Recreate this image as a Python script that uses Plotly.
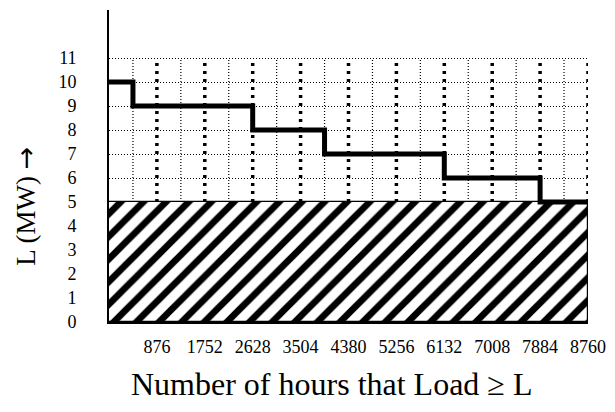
import plotly.graph_objects as go

# load duration curve
STEP_HOURS = [0, 438, 2628, 3942, 6132, 7884, 8760]
STEP_LOAD = [10, 9, 8, 7, 6, 5, 5]
BASE_LOAD = 5
GRID_TOP = 11
TOTAL_HOURS = 8760
X_TICKS = [876, 1752, 2628, 3504, 4380, 5256, 6132, 7008, 7884, 8760]
X_MINOR = [438, 1314, 2190, 3066, 3942, 4818, 5694, 6570, 7446, 8322]
Y_TICKS = list(range(0, 12))

FONT = "Liberation Serif, Times New Roman, serif"

fig = go.Figure()

# hatched base-load block
fig.add_trace(
    go.Bar(
        x=[TOTAL_HOURS / 2],
        y=[BASE_LOAD],
        width=[TOTAL_HOURS],
        marker={
            "color": "white",
            "line": {"color": "black", "width": 1.2},
            "pattern": {
                "shape": "/",
                "size": 16,
                "solidity": 0.42,
                "fgcolor": "black",
                "bgcolor": "white",
                "fillmode": "replace",
            },
        },
        showlegend=False,
        hoverinfo="skip",
    )
)

# step curve
fig.add_trace(
    go.Scatter(
        x=STEP_HOURS,
        y=STEP_LOAD,
        mode="lines",
        line={"color": "black", "width": 5, "shape": "hv"},
        showlegend=False,
    )
)

shapes = []
for h in X_TICKS:
    shapes.append(
        {
            "type": "line", "xref": "x", "yref": "y", "layer": "below",
            "x0": h, "x1": h, "y0": BASE_LOAD, "y1": GRID_TOP,
            "line": {"color": "black", "width": 3.5, "dash": "3px,5px"},
        }
    )
for h in X_MINOR:
    shapes.append(
        {
            "type": "line", "xref": "x", "yref": "y", "layer": "below",
            "x0": h, "x1": h, "y0": BASE_LOAD, "y1": GRID_TOP,
            "line": {"color": "black", "width": 1.2, "dash": "1px,2px"},
        }
    )

# page body keeps its 8px default margin, so the figure is a bit smaller
fig.update_layout(
    width=607,
    height=404,
    margin={"l": 101, "r": 27, "t": 2, "b": 90},
    paper_bgcolor="white",
    plot_bgcolor="white",
    font={"family": FONT, "color": "black", "size": 18},
    bargap=0,
    shapes=shapes,
    annotations=[
        {
            "text": "Number of hours that Load \u2265 L",
            "xref": "paper", "yref": "paper",
            "x": 0.4635, "y": -0.2,
            "xanchor": "center", "yanchor": "middle",
            "showarrow": False,
            "font": {"family": FONT, "size": 32, "color": "black"},
        },
        {
            "text": "L (MW) <span style='font-family:DejaVu Sans'>\u2192</span>",
            "xref": "paper", "yref": "paper",
            "x": -0.175, "y": 0.37,
            "xanchor": "center", "yanchor": "middle",
            "textangle": -90,
            "showarrow": False,
            "font": {"family": FONT, "size": 27, "color": "black"},
        },
    ],
)

fig.update_xaxes(
    range=[0, TOTAL_HOURS],
    tickvals=X_TICKS,
    ticktext=[str(v) for v in X_TICKS],
    showgrid=False,
    zeroline=False,
    showline=True,
    linecolor="black",
    linewidth=1.5,
    ticks="",
    ticklabelstandoff=8,
    tickfont={"family": FONT, "size": 18, "color": "black"},
)
fig.update_yaxes(
    range=[0, 13],
    tickvals=Y_TICKS,
    showgrid=True,
    gridcolor="black",
    gridwidth=1.2,
    griddash="1px,2px",
    zeroline=False,
    showline=True,
    linecolor="black",
    linewidth=1.8,
    ticks="",
    ticklabelstandoff=27,
    tickfont={"family": FONT, "size": 18, "color": "black"},
)

fig.write_html("out.html")
